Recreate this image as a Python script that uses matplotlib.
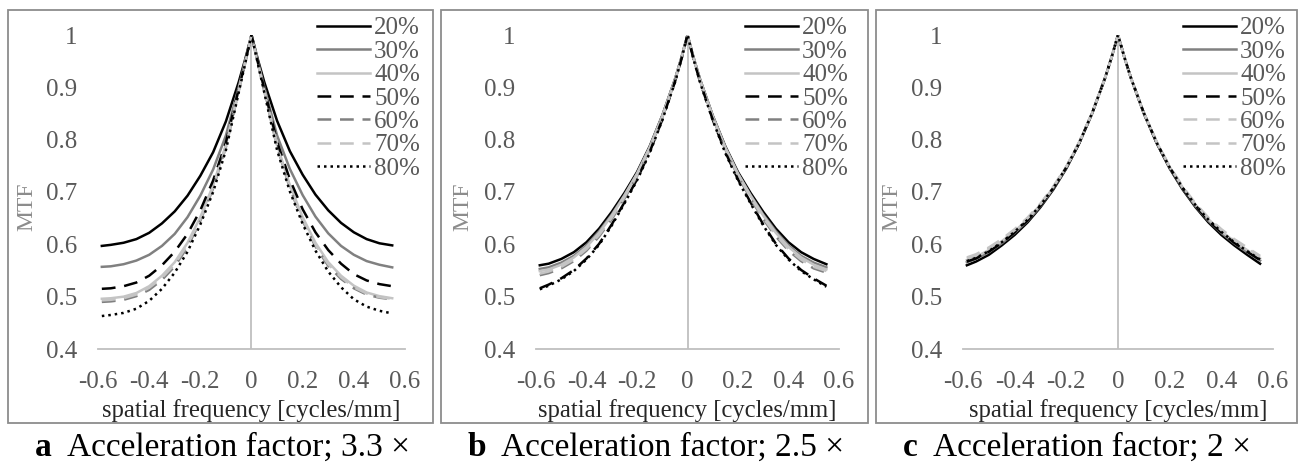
import matplotlib
matplotlib.use("Agg")
import matplotlib.pyplot as plt
from matplotlib.patches import Rectangle

plt.rcParams['font.family'] = ['Liberation Serif', 'DejaVu Serif']
plt.rcParams['axes.unicode_minus'] = False

# spatial frequency [cycles/mm], same sampling in all panels
freq = [-0.585, -0.55, -0.5, -0.45, -0.4, -0.35, -0.3, -0.25, -0.2, -0.15, -0.1, -0.05, -0.025,
        0.0, 0.025, 0.05, 0.1, 0.15, 0.2, 0.25, 0.3, 0.35, 0.4, 0.45, 0.5, 0.55]

labels = ['20%', '30%', '40%', '50%', '60%', '70%', '80%']

# a: acceleration factor 3.3x
a20 = [0.597, 0.599, 0.603, 0.610, 0.622, 0.640, 0.663, 0.693, 0.731, 0.776, 0.835, 0.910, 0.953,
       1.000, 0.953, 0.910, 0.836, 0.778, 0.733, 0.695, 0.665, 0.641, 0.623, 0.610, 0.602, 0.598]
a30 = [0.557, 0.558, 0.562, 0.569, 0.580, 0.597, 0.620, 0.652, 0.693, 0.743, 0.808, 0.900, 0.950,
       1.000, 0.950, 0.900, 0.808, 0.744, 0.694, 0.653, 0.621, 0.597, 0.580, 0.568, 0.561, 0.556]
a40 = [0.496, 0.497, 0.500, 0.507, 0.520, 0.540, 0.566, 0.603, 0.652, 0.713, 0.790, 0.895, 0.947,
       1.000, 0.947, 0.895, 0.790, 0.713, 0.652, 0.603, 0.566, 0.540, 0.521, 0.508, 0.501, 0.497]
a50 = [0.515, 0.516, 0.520, 0.527, 0.540, 0.560, 0.586, 0.620, 0.665, 0.722, 0.795, 0.897, 0.948,
       1.000, 0.948, 0.897, 0.796, 0.724, 0.667, 0.623, 0.589, 0.563, 0.543, 0.531, 0.524, 0.520]
a60 = [0.490, 0.491, 0.494, 0.501, 0.513, 0.532, 0.558, 0.595, 0.645, 0.707, 0.786, 0.893, 0.946,
       1.000, 0.946, 0.893, 0.786, 0.707, 0.645, 0.596, 0.559, 0.534, 0.516, 0.504, 0.498, 0.495]
a70 = [0.493, 0.494, 0.497, 0.504, 0.517, 0.536, 0.562, 0.599, 0.648, 0.710, 0.788, 0.894, 0.946,
       1.000, 0.946, 0.894, 0.788, 0.710, 0.648, 0.599, 0.562, 0.537, 0.518, 0.506, 0.499, 0.496]
a80 = [0.463, 0.465, 0.469, 0.477, 0.492, 0.515, 0.546, 0.586, 0.638, 0.700, 0.780, 0.890, 0.945,
       1.000, 0.945, 0.890, 0.780, 0.701, 0.639, 0.588, 0.548, 0.518, 0.495, 0.481, 0.473, 0.468]

# b: acceleration factor 2.5x
b20 = [0.560, 0.563, 0.572, 0.585, 0.604, 0.630, 0.662, 0.698, 0.738, 0.787, 0.846, 0.915, 0.955,
       1.000, 0.955, 0.915, 0.846, 0.787, 0.738, 0.698, 0.662, 0.630, 0.604, 0.585, 0.572, 0.562]
b30 = [0.553, 0.556, 0.565, 0.578, 0.598, 0.625, 0.657, 0.694, 0.735, 0.785, 0.845, 0.914, 0.955,
       1.000, 0.955, 0.914, 0.845, 0.785, 0.735, 0.694, 0.657, 0.625, 0.598, 0.578, 0.565, 0.556]
b40 = [0.549, 0.552, 0.561, 0.575, 0.595, 0.622, 0.655, 0.693, 0.735, 0.785, 0.845, 0.914, 0.955,
       1.000, 0.955, 0.914, 0.845, 0.785, 0.735, 0.693, 0.655, 0.622, 0.595, 0.575, 0.561, 0.552]
b50 = [0.516, 0.523, 0.535, 0.551, 0.573, 0.601, 0.638, 0.680, 0.724, 0.776, 0.838, 0.910, 0.952,
       1.000, 0.952, 0.910, 0.838, 0.776, 0.724, 0.680, 0.638, 0.601, 0.573, 0.551, 0.535, 0.521]
b60 = [0.541, 0.545, 0.554, 0.568, 0.588, 0.615, 0.648, 0.687, 0.730, 0.781, 0.842, 0.912, 0.954,
       1.000, 0.954, 0.912, 0.842, 0.781, 0.730, 0.687, 0.648, 0.615, 0.588, 0.568, 0.554, 0.546]
b70 = [0.544, 0.548, 0.557, 0.571, 0.591, 0.618, 0.651, 0.690, 0.732, 0.783, 0.843, 0.913, 0.954,
       1.000, 0.954, 0.913, 0.843, 0.783, 0.732, 0.690, 0.651, 0.618, 0.591, 0.571, 0.557, 0.549]
b80 = [0.514, 0.521, 0.533, 0.549, 0.571, 0.599, 0.636, 0.678, 0.722, 0.774, 0.837, 0.909, 0.952,
       1.000, 0.952, 0.909, 0.837, 0.774, 0.722, 0.678, 0.636, 0.599, 0.571, 0.549, 0.533, 0.519]

# c: acceleration factor 2x
c20 = [0.560, 0.567, 0.580, 0.598, 0.618, 0.642, 0.671, 0.705, 0.745, 0.793, 0.850, 0.918, 0.957,
       1.000, 0.957, 0.918, 0.850, 0.793, 0.745, 0.705, 0.671, 0.642, 0.618, 0.598, 0.580, 0.563]
c30 = [0.566, 0.572, 0.585, 0.602, 0.622, 0.645, 0.673, 0.707, 0.746, 0.794, 0.851, 0.918, 0.957,
       1.000, 0.957, 0.918, 0.851, 0.794, 0.746, 0.707, 0.673, 0.645, 0.622, 0.602, 0.585, 0.569]
c40 = [0.570, 0.576, 0.589, 0.606, 0.625, 0.648, 0.676, 0.709, 0.748, 0.795, 0.851, 0.918, 0.957,
       1.000, 0.957, 0.918, 0.851, 0.795, 0.748, 0.709, 0.676, 0.648, 0.625, 0.606, 0.589, 0.573]
c50 = [0.567, 0.573, 0.586, 0.603, 0.623, 0.646, 0.674, 0.708, 0.747, 0.794, 0.851, 0.918, 0.957,
       1.000, 0.957, 0.918, 0.851, 0.794, 0.747, 0.708, 0.674, 0.646, 0.623, 0.603, 0.586, 0.570]
c60 = [0.573, 0.579, 0.592, 0.608, 0.627, 0.650, 0.677, 0.710, 0.748, 0.795, 0.851, 0.918, 0.957,
       1.000, 0.957, 0.918, 0.851, 0.795, 0.748, 0.710, 0.677, 0.650, 0.627, 0.608, 0.592, 0.576]
c70 = [0.575, 0.581, 0.594, 0.610, 0.629, 0.651, 0.678, 0.711, 0.749, 0.796, 0.852, 0.918, 0.957,
       1.000, 0.957, 0.918, 0.852, 0.796, 0.749, 0.711, 0.678, 0.651, 0.629, 0.610, 0.594, 0.578]
c80 = [0.568, 0.574, 0.587, 0.604, 0.624, 0.647, 0.675, 0.708, 0.747, 0.794, 0.851, 0.918, 0.957,
       1.000, 0.957, 0.918, 0.851, 0.794, 0.747, 0.708, 0.675, 0.647, 0.624, 0.604, 0.587, 0.571]

panels = [
    ('a', 'Acceleration factor; 3.3 \u00d7', [a20, a30, a40, a50, a60, a70, a80]),
    ('b', 'Acceleration factor; 2.5 \u00d7', [b20, b30, b40, b50, b60, b70, b80]),
    ('c', 'Acceleration factor; 2 \u00d7', [c20, c30, c40, c50, c60, c70, c80]),
]

W, H = 1301, 463
BLACK, GREY, LIGHT = '#000000', '#808080', '#c4c4c4'
DASH, DOT = (0, (5.5, 3.5)), (0, (1.0, 1.6))
styles = [(BLACK, '-'), (GREY, '-'), (LIGHT, '-'), (BLACK, DASH), (GREY, DASH), (LIGHT, DASH), (BLACK, DOT)]
styles_c = [(BLACK, '-'), (GREY, '-'), (LIGHT, '-'), (BLACK, DASH), (LIGHT, DASH), (LIGHT, DASH), (BLACK, DOT)]

# pixel layout of each panel: frame, plot area, legend anchor, caption
frames = [(8, 10, 433, 423), (441, 10, 868, 423), (876, 10, 1297, 423)]
areas = [(98, 405), (536, 839), (963, 1273)]
leg_right = [420, 848, 1286]
mtf_x = [27, 463, 892]
letter_x = [35, 468, 903]
cap_x = [67, 501, 933]

fig = plt.figure(figsize=(W / 100, H / 100), dpi=100)

for i, (letter, caption, series) in enumerate(panels):
    x0, x1 = areas[i]
    ax = fig.add_axes([x0 / W, 1 - 349 / H, (x1 - x0) / W, (349 - 35) / H])
    sty = styles_c if letter == 'c' else styles
    for vals, lab, (col, ls) in zip(series, labels, sty):
        ax.plot(freq, vals, color=col, linestyle=ls, linewidth=1.8, label=lab)
    ax.axvline(0, color='#bfbfbf', linewidth=1.3, zorder=0)
    ax.set_xlim(-0.6, 0.6)
    ax.set_ylim(0.4, 1.0)
    ax.set_xticks([-0.6, -0.4, -0.2, 0, 0.2, 0.4, 0.6])
    ax.set_xticklabels(['-0.6', '-0.4', '-0.2', '0', '0.2', '0.4', '0.6'])
    ax.set_yticks([0.4, 0.5, 0.6, 0.7, 0.8, 0.9, 1.0])
    ax.set_yticklabels(['0.4', '0.5', '0.6', '0.7', '0.8', '0.9', '1'])
    ax.tick_params(length=0, labelsize=18, labelcolor='#595959')
    ax.tick_params(axis='x', pad=15.5)
    ax.tick_params(axis='y', pad=15)
    for s in ['left', 'top', 'right']:
        ax.spines[s].set_visible(False)
    ax.spines['bottom'].set_color('#bfbfbf')
    ax.spines['bottom'].set_linewidth(1.3)
    ax.patch.set_alpha(0)

    leg = ax.legend(loc='upper right', bbox_to_anchor=(leg_right[i] / W, 1 - 17 / H),
                    bbox_transform=fig.transFigure, frameon=False, fontsize=18,
                    handlelength=2.15, handletextpad=0.15, labelspacing=0.035,
                    borderpad=0, borderaxespad=0)
    for t in leg.get_texts():
        t.set_color('#595959')

    fig.text(mtf_x[i] / W, 1 - 207 / H, 'MTF', rotation=90, ha='center', va='center',
             fontsize=17, color='#8c8c8c')
    fig.text((x0 + x1) / 2 / W, 1 - 411 / H, 'spatial frequency [cycles/mm]',
             ha='center', va='center', fontsize=17.7, color='#262626')

    fx0, fy0, fx1, fy1 = frames[i]
    fig.add_artist(Rectangle((fx0 / W, 1 - fy1 / H), (fx1 - fx0) / W, (fy1 - fy0) / H,
                             transform=fig.transFigure, fill=False,
                             edgecolor='#8c8c8c', linewidth=1.3))

    fig.text(letter_x[i] / W, 1 - 448 / H, letter, fontweight='bold', ha='left', va='center',
             fontsize=24, color='black')
    fig.text(cap_x[i] / W, 1 - 448 / H, caption, ha='left', va='center', fontsize=24,
             color='black')

fig.savefig('out.png', dpi=100)
